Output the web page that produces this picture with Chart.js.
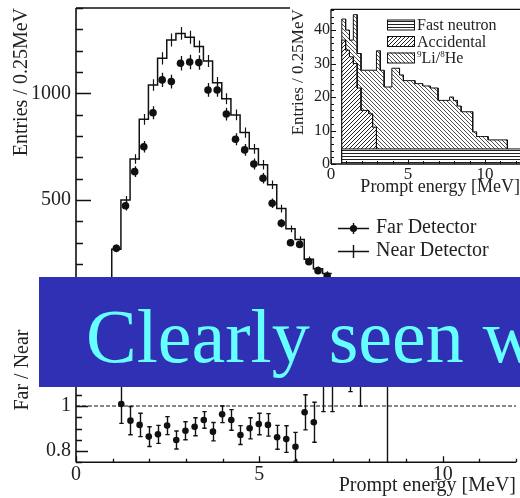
<!DOCTYPE html>
<html>
<head>
<meta charset="utf-8">
<title>Prompt energy spectra</title>
<script src="https://cdn.jsdelivr.net/npm/chart.js@4.4.1/dist/chart.umd.min.js"></script>
<style>
  html, body { margin:0; padding:0; background:#fff; }
  #figure { position:relative; width:520px; height:498px; overflow:hidden; background:#fff; }
  #figure canvas { position:absolute; }
  #cMain { left:0; top:0; }
  #cRatio { left:0; top:320px; }
  #cInset { left:290px; top:0; background:#fff; }
  #banner { position:absolute; left:39px; top:277px; width:481px; height:110px; background:#3030b4; overflow:hidden; }
  #banner span { position:absolute; left:47px; top:21px; font-family:'Liberation Serif', serif; font-size:76px; line-height:76px; color:#66ffff; white-space:nowrap; }
</style>
</head>
<body>
<div id="figure">
  <canvas id="cMain" width="520" height="320"></canvas>
  <canvas id="cRatio" width="520" height="178"></canvas>
  <canvas id="cInset" width="230" height="200"></canvas>
  <div id="banner"><span>Clearly seen w</span></div>
</div>
<script>
const SERIF = "'Liberation Serif', 'Times New Roman', serif";
const INK = '#111';
const TEXT = '#222';

// ---- Main panel: prompt energy spectra in 0.25 MeV bins ----
const binCenters = [1.10, 1.35, 1.60, 1.85, 2.10, 2.35, 2.60, 2.85, 3.10, 3.35, 3.60, 3.85,
                    4.10, 4.35, 4.60, 4.85, 5.10, 5.35, 5.60, 5.85, 6.10, 6.35, 6.60, 6.85];
const binWidth = 0.25;
const farCounts  = [274, 473, 633, 750, 909, 1063, 1055, 1141, 1147, 1144, 1016, 1016,
                    903, 785, 735, 669, 602, 485, 391, 300, 292, 211, 169, 144];
const farErrors  = [17, 22, 25, 27, 30, 33, 32, 34, 34, 34, 32, 32,
                    30, 28, 27, 26, 25, 22, 20, 17, 17, 15, 13, 12];
const nearCounts = [269, 500, 692, 878, 1039, 1164, 1250, 1281, 1263, 1219, 1152, 1050,
                    975, 899, 816, 740, 665, 572, 460, 365, 315, 222, 178, 156];
const nearErrors = [14, 19, 22, 25, 27, 29, 30, 30, 30, 29, 28, 27,
                    26, 25, 24, 23, 22, 20, 18, 16, 15, 13, 11, 10];

// ---- Ratio panel: Far / Near ----
const ratioEnergy = [1.235, 1.485, 1.735, 1.985, 2.235, 2.485, 2.735, 2.985, 3.235, 3.485, 3.735, 3.985,
                     4.235, 4.485, 4.735, 4.985, 5.235, 5.485, 5.735, 5.985, 6.235, 6.485, 6.735, 6.985,
                     7.485, 7.735, 8.485];
const ratioValue  = [1.009, 0.935, 0.916, 0.864, 0.874, 0.913, 0.849, 0.890, 0.908, 0.938, 0.886, 0.963,
                     0.938, 0.871, 0.901, 0.920, 0.916, 0.861, 0.853, 0.819, 0.972, 0.928, 1.12, 1.12,
                     1.20, 1.15, 1.30];
const ratioError  = [0.086, 0.063, 0.052, 0.044, 0.040, 0.040, 0.040, 0.040, 0.040, 0.037, 0.041, 0.037,
                     0.046, 0.042, 0.047, 0.048, 0.050, 0.053, 0.059, 0.064, 0.078, 0.089, 0.145, 0.145,
                     0.136, 0.150, 0.60];
const unityRatio = 1;

// ---- Inset: background spectra (stacked), 0.25 MeV bins from 0.7 MeV ----
const bkgBinStart = 0.7;
const bkgBinWidth = 0.25;
const fastNeutronRate  = 4.5;
const fastNeutronRange = [0.7, 12.6];
const accidental = [32.5, 29.5, 27.5, 25.5, 18.2, 11.5, 11.5, 10.5, 6.5];
const liHe = [6.3, 6.0, 5.0, 14.6, 10.3, 12.0, 12.0, 13.0, 17.0, 29.3, 23.5, 18.5,
              18.5, 24.1, 24.1, 22.1, 20.4, 20.4, 20.4, 19.5, 19.5, 18.8, 18.8, 18.2,
              18.2, 14.5, 14.5, 14.5, 15.5, 14.5, 12.8, 11.1, 11.1, 11.1, 5.1, 3.7,
              3.7, 3.7, 2.7, 2.7, 2.7, 2.7, 2.7];

// ---------- helpers ----------
function stepPoints(edges, values, closeEnd) {
  const pts = [{ x: edges[0], y: 0 }];
  values.forEach((v, i) => { pts.push({ x: edges[i], y: v }); pts.push({ x: edges[i + 1], y: v }); });
  if (closeEnd) pts.push({ x: edges[edges.length - 1], y: 0 });
  return pts;
}
function edgesFrom(start, width, n) {
  const e = [];
  for (let i = 0; i <= n; i++) e.push(+(start + i * width).toFixed(4));
  return e;
}
function isMultiple(v, step) { return Math.abs(v / step - Math.round(v / step)) < 1e-6; }

// Opaque hatch fills: horizontal lines, forward and backward diagonals
function makePattern(kind) {
  const c = document.createElement('canvas');
  const s = kind === 'h' ? 3 : 4;
  c.width = s; c.height = s;
  const g = c.getContext('2d');
  g.fillStyle = '#fff'; g.fillRect(0, 0, s, s);
  g.strokeStyle = '#222';
  if (kind === 'h') {
    g.fillStyle = '#222'; g.fillRect(0, 0, s, 1);
  } else if (kind === 'fwd') {
    g.lineWidth = 1.0;
    g.beginPath(); g.moveTo(-1, s + 1); g.lineTo(s + 1, -1);
    g.moveTo(-1, 1); g.lineTo(1, -1); g.moveTo(s - 1, s + 1); g.lineTo(s + 1, s - 1); g.stroke();
  } else {
    g.lineWidth = 0.8;
    g.beginPath(); g.moveTo(-1, -1); g.lineTo(s + 1, s + 1);
    g.moveTo(s - 1, -1); g.lineTo(s + 1, 1); g.moveTo(-1, s - 1); g.lineTo(1, s + 1); g.stroke();
  }
  return g.createPattern(c, 'repeat');
}

// Frame + inward tick marks, ROOT style
const rootFrame = {
  id: 'rootFrame',
  afterDatasetsDraw(chart, args, o) {
    const { ctx, chartArea: a, scales } = chart;
    ctx.save();
    ctx.strokeStyle = INK;
    ctx.lineWidth = o.frameWidth;
    ctx.beginPath();
    if (o.sides.includes('l')) { ctx.moveTo(a.left, a.top); ctx.lineTo(a.left, a.bottom); }
    if (o.sides.includes('t')) { ctx.moveTo(a.left, a.top); ctx.lineTo(a.right, a.top); }
    if (o.sides.includes('b')) { ctx.moveTo(a.left, a.bottom); ctx.lineTo(a.right, a.bottom); }
    ctx.stroke();
    ctx.lineWidth = o.tickWidth;
    ctx.beginPath();
    scales.y.ticks.forEach(t => {
      const p = Math.round(scales.y.getPixelForValue(t.value)) + 0.5;
      const len = isMultiple(t.value, o.yMajor) ? o.yMajorLen : o.yMinorLen;
      ctx.moveTo(a.left, p); ctx.lineTo(a.left + len, p);
    });
    scales.x.ticks.forEach(t => {
      const p = Math.round(scales.x.getPixelForValue(t.value)) + 0.5;
      const len = isMultiple(t.value, o.xMajor) ? o.xMajorLen : o.xMinorLen;
      ctx.moveTo(p, a.bottom); ctx.lineTo(p, a.bottom - len);
    });
    ctx.stroke();
    ctx.restore();
  }
};

// Vertical error bars taken from dataset.errorBars
const errorBars = {
  id: 'errorBars',
  afterDatasetsDraw(chart) {
    const { ctx, chartArea: a } = chart;
    ctx.save();
    ctx.beginPath(); ctx.rect(a.left, a.top, a.right - a.left, a.bottom - a.top); ctx.clip();
    chart.data.datasets.forEach((ds, i) => {
      if (!ds.errorBars) return;
      const meta = chart.getDatasetMeta(i);
      const xs = chart.scales[meta.xAxisID], ys = chart.scales[meta.yAxisID];
      ctx.strokeStyle = INK; ctx.lineWidth = ds.errorWidth || 1.3;
      ctx.beginPath();
      ds.data.forEach((d, j) => {
        const e = ds.errorBars[j];
        const x = Math.round(xs.getPixelForValue(d.x)) + 0.5;
        const y1 = ys.getPixelForValue(d.y - e), y2 = ys.getPixelForValue(d.y + e);
        ctx.moveTo(x, y1); ctx.lineTo(x, y2);
        if (ds.errorCap) {
          ctx.moveTo(x - ds.errorCap, y1); ctx.lineTo(x + ds.errorCap, y1);
          ctx.moveTo(x - ds.errorCap, y2); ctx.lineTo(x + ds.errorCap, y2);
        }
      });
      ctx.stroke();
    });
    ctx.restore();
  }
};

Chart.defaults.font.family = SERIF;
Chart.defaults.color = TEXT;

function fixedBox(size, isX) {
  return function (s) {
    if (isX) s.height = size; else s.width = size;
    s.paddingTop = 0; s.paddingBottom = 0; s.paddingLeft = 0; s.paddingRight = 0;
  };
}
const noGrid = { display: false, drawTicks: false };

const common = {
  responsive: false, animation: false, devicePixelRatio: 1, events: [],
  plugins: { legend: { display: false }, tooltip: { enabled: false } }
};

// ---------- main spectra ----------
const nearEdges = binCenters.map(c => +(c - binWidth / 2).toFixed(4));
nearEdges.push(+(binCenters[binCenters.length - 1] + binWidth / 2).toFixed(4));

const mainLegend = {
  id: 'mainLegend',
  afterDraw(chart) {
    const ctx = chart.ctx;
    ctx.save();
    ctx.strokeStyle = INK; ctx.fillStyle = INK; ctx.lineWidth = 1.4;
    ctx.beginPath();
    ctx.moveTo(338, 228.5); ctx.lineTo(369, 228.5);
    ctx.moveTo(353.5, 223); ctx.lineTo(353.5, 234);
    ctx.moveTo(338, 251.5); ctx.lineTo(369, 251.5);
    ctx.moveTo(353.5, 245); ctx.lineTo(353.5, 258);
    ctx.stroke();
    ctx.beginPath(); ctx.arc(353.5, 228.5, 3.6, 0, Math.PI * 2); ctx.fill();
    ctx.fillStyle = TEXT; ctx.font = '20px ' + SERIF; ctx.textBaseline = 'middle';
    ctx.fillText('Far Detector', 376, 228);
    ctx.fillText('Near Detector', 376, 251);
    ctx.restore();
  }
};

new Chart(document.getElementById('cMain'), {
  type: 'line',
  data: {
    datasets: [
      { label: 'Far Detector', data: binCenters.map((x, i) => ({ x, y: farCounts[i] })),
        showLine: false, pointRadius: 3.8, pointBackgroundColor: INK, pointBorderWidth: 0,
        errorBars: farErrors, errorWidth: 1.3 },
      { label: 'Near Detector', data: stepPoints(nearEdges, nearCounts, false),
        borderColor: INK, borderWidth: 1.5, pointRadius: 0, fill: false, tension: 0 },
      { label: 'Near errors', data: binCenters.map((x, i) => ({ x, y: nearCounts[i] })),
        showLine: false, pointRadius: 0, errorBars: nearErrors, errorWidth: 1.2 }
    ]
  },
  options: {
    ...common,
    layout: { padding: { top: 8, left: 0, right: 0, bottom: 0 } },
    scales: {
      x: { type: 'linear', min: 0, max: 12,
           ticks: { display: false, stepSize: 1, autoSkip: false, includeBounds: false },
           grid: noGrid, border: { display: false }, afterFit: fixedBox(13.3, true) },
      y: { type: 'linear', min: 0, max: 1400,
           ticks: { stepSize: 100, autoSkip: false, padding: 5, includeBounds: false,
                    font: { size: 20 }, color: TEXT,
                    callback: v => (isMultiple(v, 500) ? String(v) : '') },
           grid: noGrid, border: { display: false },
           title: { display: true, text: 'Entries / 0.25MeV', align: 'end', color: TEXT,
                    font: { size: 20 }, padding: { top: 10, bottom: 0 } },
           afterFit: fixedBox(76, false) }
    },
    plugins: { ...common.plugins,
      rootFrame: { sides: 'ltb', frameWidth: 1.6, tickWidth: 1.3,
                   yMajor: 500, yMajorLen: 15, yMinorLen: 7, xMajor: 5, xMajorLen: 10, xMinorLen: 5 } }
  },
  plugins: [errorBars, rootFrame, mainLegend]
});

// ---------- ratio panel ----------
new Chart(document.getElementById('cRatio'), {
  type: 'line',
  data: {
    datasets: [
      { label: 'unity', data: [{ x: 0, y: unityRatio }, { x: 12, y: unityRatio }],
        borderColor: INK, borderWidth: 1.1, borderDash: [4, 2], pointRadius: 0 },
      { label: 'Far / Near', data: ratioEnergy.map((x, i) => ({ x, y: ratioValue[i] })),
        showLine: false, pointRadius: 3.3, pointBackgroundColor: INK, pointBorderWidth: 0,
        errorBars: ratioError, errorCap: 2.2, errorWidth: 1.4 }
    ]
  },
  options: {
    ...common,
    layout: { padding: { top: 9.5, left: 0, right: 0, bottom: 0 } },
    scales: {
      x: { type: 'linear', min: 0, max: 12,
           ticks: { stepSize: 1, autoSkip: false, padding: 0, maxRotation: 0, includeBounds: false,
                    font: { size: 20 }, color: TEXT,
                    callback: v => (isMultiple(v, 5) ? String(v) : '') },
           grid: noGrid, border: { display: false },
           title: { display: true, text: 'Prompt energy [MeV]', align: 'end', color: TEXT,
                    font: { size: 20 }, padding: { top: 0, bottom: 0 } },
           afterFit: fixedBox(35.75, true) },
      y: { type: 'linear', min: 0.75, max: 1.34,
           ticks: { stepSize: 0.05, autoSkip: false, padding: 5, includeBounds: false,
                    font: { size: 20 }, color: TEXT,
                    callback: v => (isMultiple(v, 0.2) ? String(Math.round(v * 10) / 10) : '') },
           grid: noGrid, border: { display: false },
           title: { display: true, text: 'Far / Near', align: 'end', color: TEXT,
                    font: { size: 20 }, padding: { top: 11, bottom: 0 } },
           afterFit: fixedBox(76, false) }
    },
    plugins: { ...common.plugins,
      rootFrame: { sides: 'lb', frameWidth: 1.6, tickWidth: 1.3,
                   yMajor: 0.2, yMajorLen: 12, yMinorLen: 6, xMajor: 5, xMajorLen: 6, xMinorLen: 3.5 } }
  },
  plugins: [errorBars, rootFrame]
});

// ---------- inset: stacked backgrounds ----------
const liEdges = edgesFrom(bkgBinStart, bkgBinWidth, liHe.length);
const accEdges = edgesFrom(bkgBinStart, bkgBinWidth, accidental.length);
const accTop = accidental.map(v => v + fastNeutronRate);
const totalTop = liHe.map((v, i) => v + (i < accidental.length ? accidental[i] : 0) + fastNeutronRate);

const patH = makePattern('h'), patF = makePattern('fwd'), patB = makePattern('back');

const insetLegend = {
  id: 'insetLegend',
  afterDraw(chart) {
    const ctx = chart.ctx;
    const rows = [[patH, 'Fast neutron', 19.5], [patF, 'Accidental', 36], [patB, null, 52.5]];
    ctx.save();
    rows.forEach(([pat, label, y]) => {
      ctx.fillStyle = pat; ctx.fillRect(97, y, 28, 10.5);
      ctx.strokeStyle = INK; ctx.lineWidth = 1; ctx.strokeRect(97.5, y + 0.5, 27, 10);
      ctx.fillStyle = TEXT; ctx.textBaseline = 'alphabetic';
      ctx.font = '16px ' + SERIF;
      if (label) { ctx.fillText(label, 127, y + 10.5); }
      else {
        let x = 127;
        ctx.font = '9px ' + SERIF; ctx.fillText('9', x, y + 4); x += ctx.measureText('9').width;
        ctx.font = '16px ' + SERIF; ctx.fillText('Li/', x, y + 10.5); x += ctx.measureText('Li/').width;
        ctx.font = '9px ' + SERIF; ctx.fillText('8', x, y + 4); x += ctx.measureText('8').width;
        ctx.font = '16px ' + SERIF; ctx.fillText('He', x, y + 10.5);
      }
    });
    ctx.restore();
  }
};

new Chart(document.getElementById('cInset'), {
  type: 'line',
  data: {
    datasets: [
      { label: '9Li/8He', data: stepPoints(liEdges, totalTop, true), order: 3,
        borderColor: INK, borderWidth: 1, pointRadius: 0, fill: 'origin', backgroundColor: patB },
      { label: 'Accidental', data: stepPoints(accEdges, accTop, true), order: 2,
        borderColor: INK, borderWidth: 1, pointRadius: 0, fill: 'origin', backgroundColor: patF },
      { label: 'Fast neutron', data: stepPoints(fastNeutronRange, [fastNeutronRate], true), order: 1,
        borderColor: INK, borderWidth: 1, pointRadius: 0, fill: 'origin', backgroundColor: patH }
    ]
  },
  options: {
    ...common,
    layout: { padding: { top: 9.3, left: 0, right: 0, bottom: 0 } },
    scales: {
      x: { type: 'linear', min: 0, max: 12.27,
           ticks: { stepSize: 1, autoSkip: false, padding: 0, maxRotation: 0, includeBounds: false,
                    font: { size: 17 }, color: TEXT,
                    callback: v => (isMultiple(v, 5) ? String(v) : '') },
           grid: noGrid, border: { display: false },
           title: { display: true, text: 'Prompt energy [MeV]', align: 'end', color: TEXT,
                    font: { size: 18 }, padding: { top: 0, bottom: 2 } },
           afterFit: fixedBox(36, true) },
      y: { type: 'linear', min: 0, max: 46.2,
           ticks: { stepSize: 2, autoSkip: false, padding: 1, includeBounds: false,
                    font: { size: 16 }, color: TEXT,
                    callback: v => (isMultiple(v, 10) ? String(v) : '') },
           grid: noGrid, border: { display: false },
           title: { display: true, text: 'Entries / 0.25MeV', align: 'end', color: TEXT,
                    font: { size: 17, lineHeight: 1 }, padding: { top: 0, bottom: 0 } },
           afterFit: fixedBox(41, false) }
    },
    plugins: { ...common.plugins,
      rootFrame: { sides: 'ltb', frameWidth: 1.3, tickWidth: 1,
                   yMajor: 10, yMajorLen: 5, yMinorLen: 3, xMajor: 5, xMajorLen: 5, xMinorLen: 3 } }
  },
  plugins: [rootFrame, insetLegend]
});
</script>
</body>
</html>
